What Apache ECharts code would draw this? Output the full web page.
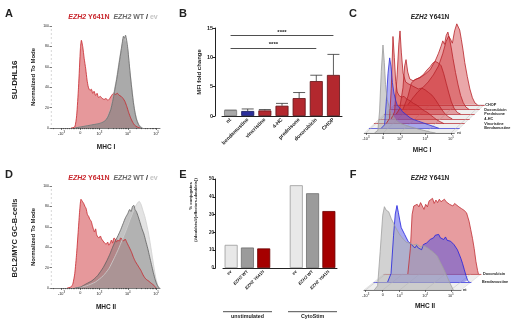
<!DOCTYPE html>
<html>
<head>
<meta charset="utf-8">
<script src="https://cdn.jsdelivr.net/npm/echarts@6/dist/echarts.min.js"></script>
<style>
  html, body { margin: 0; padding: 0; background: #fff; }
  #main { width: 520px; height: 321px; }
</style>
</head>
<body>
<div id="main"></div>
<script>
const FONT = '"Liberation Sans", Arial, Helvetica, sans-serif'

// flow axis in display units: -10^3 -> -1, 0 -> 0, 10^3 -> 1, 10^4 -> 2.5, 10^5 -> 4
const flowTicks = [-1, 0, 1, 2.5, 4]
const flowTickLabels = ['-10{s|3}', '0', '10{s|3}', '10{s|4}', '10{s|5}']

// A: SU-DHL16, MHC I, % of mode
const aY641N = [[-0.5,0],[-0.3,1],[-0.2,12],[-0.1,40],[0,78],[0.05,86],[0.12,80],[0.2,68],[0.28,58],[0.35,47],[0.42,40],[0.5,37],[0.58,38],[0.65,34],[0.72,36],[0.8,32],[0.88,34],[0.95,30],[1.05,31],[1.15,29],[1.25,28],[1.35,29],[1.45,27],[1.55,29],[1.65,32],[1.75,34],[1.85,33],[1.95,34],[2.05,32],[2.15,31],[2.25,29],[2.35,26],[2.45,21],[2.55,15],[2.65,10],[2.75,6],[2.85,3],[3.0,1],[3.15,0]]
const aWT = [[-0.3,0],[0,1],[0.3,2],[0.6,3],[0.9,4],[1.1,5],[1.3,7],[1.45,11],[1.6,18],[1.7,26],[1.8,36],[1.9,46],[1.97,54],[2.05,64],[2.15,76],[2.22,85],[2.27,90],[2.32,88],[2.38,91],[2.44,86],[2.5,78],[2.56,66],[2.62,54],[2.7,40],[2.78,27],[2.86,17],[2.95,9],[3.05,4],[3.15,1],[3.25,0]]
const aEV = [[-0.3,0],[0,1],[0.3,2],[0.6,3],[0.9,4],[1.1,5],[1.3,7],[1.45,12],[1.6,20],[1.7,28],[1.8,38],[1.9,48],[2.0,60],[2.1,72],[2.2,82],[2.28,88],[2.35,86],[2.42,84],[2.5,76],[2.58,62],[2.66,48],[2.74,35],[2.82,23],[2.9,14],[3.0,7],[3.1,3],[3.2,1],[3.3,0]]

// B: MFI fold change
const bCategories = ['nt', 'bendamustine', 'vincristine', '4-HC', 'prednisone', 'doxorubicin', 'CHOP']
const bMean = [1.0, 0.85, 0.95, 1.75, 3.05, 5.95, 7.0]
const bErrTop = [1.0, 1.2, 1.1, 2.15, 4.0, 6.95, 10.5]
const bColors = ['#a9a9a9', '#2c2f9c', '#b3282e', '#b3282e', '#b3282e', '#b3282e', '#b3282e']
const bBorders = ['#777777', '#14165a', '#5e1014', '#5e1014', '#5e1014', '#5e1014', '#5e1014']
const bSig = [['nt', 'CHOP', 13.7], ['nt', 'doxorubicin', 11.6]]

// C: EZH2 Y641N, MHC I waterfall (front to back), % of mode
const cNt = [[-0.5,0],[-0.3,3],[-0.2,25],[-0.1,70],[0,100],[0.08,80],[0.15,55],[0.25,38],[0.4,27],[0.6,19],[0.8,14],[1.0,11],[1.3,9],[1.6,7],[2.0,5],[2.4,3],[2.8,1],[3.1,0]]
const cBendamustine = [[-0.4,0],[-0.2,4],[-0.1,30],[0,62],[0.1,80],[0.18,70],[0.26,52],[0.35,40],[0.45,32],[0.55,26],[0.65,24],[0.75,22],[0.85,19],[0.95,17],[1.1,15],[1.3,12],[1.5,10],[1.8,8],[2.1,6],[2.4,4],[2.7,2],[3.0,0]]
const cVincristine = [[-0.4,0],[-0.2,6],[-0.1,40],[0,99],[0.08,75],[0.16,48],[0.25,36],[0.35,32],[0.5,30],[0.65,31],[0.8,28],[1.0,26],[1.2,23],[1.4,21],[1.6,18],[1.8,15],[2.0,13],[2.2,10],[2.4,7],[2.6,4],[2.8,2],[3.0,0]]
const c4HC = [[-0.4,0],[-0.2,8],[-0.05,50],[0.05,85],[0.12,100],[0.2,75],[0.3,52],[0.45,42],[0.6,40],[0.8,38],[1.0,36],[1.2,34],[1.4,35],[1.6,33],[1.8,30],[2.0,27],[2.2,22],[2.4,16],[2.6,10],[2.8,5],[3.0,2],[3.2,0]]
const cPrednisone = [[-0.4,0],[-0.2,6],[0,30],[0.1,55],[0.18,62],[0.28,48],[0.4,40],[0.6,38],[0.8,40],[1.0,42],[1.2,45],[1.4,50],[1.6,54],[1.75,58],[1.9,60],[2.0,62],[2.1,58],[2.25,55],[2.4,46],[2.55,35],[2.7,24],[2.85,14],[3.0,7],[3.2,2],[3.4,0]]
const cDoxorubicin = [[-0.3,0],[0,15],[0.2,30],[0.4,34],[0.7,36],[1.0,40],[1.3,45],[1.6,55],[1.8,64],[1.95,72],[2.05,78],[2.15,74],[2.25,84],[2.35,88],[2.45,80],[2.55,70],[2.65,58],[2.8,42],[2.95,28],[3.1,16],[3.25,8],[3.4,3],[3.6,0]]
const cCHOP = [[-0.3,0],[0,8],[0.3,15],[0.6,20],[0.9,26],[1.2,34],[1.5,44],[1.75,58],[1.95,72],[2.1,78],[2.2,75],[2.32,70],[2.45,84],[2.58,92],[2.65,94],[2.75,85],[2.85,74],[2.95,62],[3.05,48],[3.2,32],[3.35,18],[3.5,8],[3.65,2],[3.8,0]]

// D: BCL2/MYC GC-B-cells, MHC II, % of mode
const dY641N = [[-0.7,0],[-0.5,1],[-0.4,4],[-0.3,14],[-0.2,34],[-0.1,60],[-0.03,78],[0.03,87],[0.1,85],[0.17,83],[0.24,80],[0.3,78],[0.37,72],[0.44,70],[0.5,67],[0.56,66],[0.62,62],[0.68,58],[0.74,55],[0.8,58],[0.86,52],[0.92,50],[0.98,49],[1.05,51],[1.12,48],[1.2,46],[1.28,44],[1.36,43],[1.44,45],[1.5,42],[1.57,44],[1.64,47],[1.7,44],[1.77,49],[1.84,48],[1.9,45],[1.97,47],[2.05,46],[2.12,49],[2.2,48],[2.28,46],[2.36,48],[2.44,45],[2.52,42],[2.6,39],[2.7,35],[2.8,30],[2.9,26],[3.0,23],[3.1,20],[3.2,17],[3.3,13],[3.4,10],[3.5,8],[3.6,7],[3.7,5],[3.8,4],[3.9,2],[4.0,0]]
const dWT = [[-0.3,0],[0,1],[0.3,4],[0.6,7],[0.9,12],[1.2,20],[1.4,27],[1.55,33],[1.7,40],[1.84,46],[1.95,50],[2.1,56],[2.25,63],[2.38,69],[2.5,73],[2.6,77],[2.67,75],[2.75,80],[2.82,81],[2.88,77],[2.95,75],[3.05,70],[3.15,64],[3.25,58],[3.35,53],[3.45,46],[3.55,39],[3.65,31],[3.75,23],[3.85,15],[3.95,8],[4.05,3],[4.15,0]]
const dEV = [[-0.3,0],[0.3,2],[0.8,6],[1.2,12],[1.5,19],[1.8,30],[2.0,38],[2.2,47],[2.4,56],[2.6,66],[2.75,73],[2.9,80],[3.0,83],[3.1,85],[3.2,82],[3.3,76],[3.4,70],[3.5,62],[3.6,53],[3.7,42],[3.8,30],[3.9,18],[4.0,8],[4.1,2],[4.2,0]]

// E: % conjugates
const eCategories = ['ev', 'EZH2 WT', 'EZH2 Y641N', '', 'ev', 'EZH2 WT', 'EZH2 Y641N']
const eUnstim = [13, 11.5, 11]
const eCyto = [46.5, 42, 32]
const eColors = ['#e8e8e8', '#9b9b9b', '#a50000']
const eBorders = ['#9a9a9a', '#6e6e6e', '#6a0000']
const eGroups = ['unstimulated', 'CytoStim']

// F: EZH2 Y641N, MHC II waterfall (front to back)
const fNt = [[-0.5,0],[-0.3,5],[-0.15,45],[0,88],[0.1,98],[0.2,94],[0.35,92],[0.5,84],[0.65,78],[0.8,72],[1.0,65],[1.2,60],[1.4,56],[1.6,55],[1.8,53],[2.0,54],[2.2,51],[2.4,52],[2.6,50],[2.8,47],[3.0,44],[3.2,40],[3.4,32],[3.6,24],[3.8,15],[4.0,6],[4.15,0]]
const fBendamustine = [[-0.3,0],[-0.1,10],[0.05,55],[0.15,80],[0.25,90],[0.33,82],[0.42,72],[0.5,64],[0.6,62],[0.7,56],[0.8,52],[0.9,48],[1.0,46],[1.1,44],[1.2,42],[1.3,40],[1.4,43],[1.5,40],[1.6,42],[1.7,38],[1.8,44],[1.9,42],[2.0,46],[2.1,44],[2.2,50],[2.3,48],[2.4,52],[2.5,55],[2.6,53],[2.7,56],[2.8,52],[2.9,54],[3.0,50],[3.1,53],[3.2,49],[3.3,51],[3.4,48],[3.5,46],[3.6,44],[3.7,42],[3.8,38],[3.9,33],[4.0,28],[4.1,22],[4.2,15],[4.3,8],[4.4,2],[4.5,0]]
const fDoxorubicin = [[0.3,0],[0.45,30],[0.55,70],[0.65,80],[0.75,78],[0.85,82],[0.95,79],[1.05,84],[1.15,80],[1.25,76],[1.35,82],[1.45,79],[1.55,86],[1.65,84],[1.75,89],[1.85,83],[1.95,87],[2.05,84],[2.15,88],[2.25,85],[2.35,84],[2.45,88],[2.55,85],[2.65,87],[2.75,82],[2.85,84],[2.95,80],[3.05,83],[3.15,81],[3.3,79],[3.45,77],[3.6,75],[3.75,72],[3.9,62],[4.0,52],[4.1,42],[4.2,30],[4.3,15],[4.4,4],[4.45,0]]

const RED = '#c8262c'
const INK = '#222'

const grids = []
const xAxes = []
const yAxes = []
const series = []
const graphics = []

const supRich = { s: { fontSize: 2.8, padding: [0, 0, 3, 0], fontFamily: FONT, color: INK } }

function flowLabel(v) {
  const i = flowTicks.indexOf(v)
  return i >= 0 ? flowTickLabels[i] : ''
}

// 对数轴的小刻度
function flowMinor(min, max) {
  const out = []
  for (let k = 1; k <= 9; k++) out.push(k / 10, -k / 10)
  for (let k = 2; k <= 9; k++) {
    const l = 1.5 * Math.log10(k)
    out.push(1 + l, 2.5 + l, -1 - l)
  }
  return out.filter((v) => v > min && v < max)
}

function addGrid(g) {
  grids.push(g)
  return grids.length - 1
}

function hist(data, xi, yi, fill, stroke, z, width, smooth) {
  series.push({
    type: 'line', data, xAxisIndex: xi, yAxisIndex: yi, symbol: 'none', showSymbol: false,
    smooth: smooth || false, lineStyle: { width: 0 }, areaStyle: { color: fill, opacity: 1 }, z, silent: true,
  })
  series.push({
    type: 'line', data, xAxisIndex: xi, yAxisIndex: yi, symbol: 'none', showSymbol: false,
    smooth: smooth || false, lineStyle: { width: width || 0.8, color: stroke }, z: z + 20, silent: true,
  })
}

function text(x, y, str, opts) {
  graphics.push({
    type: 'text', x, y, rotation: (opts && opts.rotation) || 0, z: 100,
    style: Object.assign({
      text: str, fontFamily: FONT, fontSize: 7, fontWeight: 'bold', fill: INK,
      align: 'center', verticalAlign: 'middle',
    }, opts && opts.style),
  })
}

function line(x1, y1, x2, y2, color, w) {
  graphics.push({ type: 'line', shape: { x1, y1, x2, y2 }, style: { stroke: color || INK, lineWidth: w || 0.8 }, z: 1 })
}

// ---------- A / D: overlaid histograms ----------
function histPanel(top, xName, curves) {
  const gi = addGrid({ left: 52, top, width: 108, height: 102 })
  const min = -1.5
  const max = 4.2
  xAxes.push({
    gridIndex: gi, type: 'value', min, max, position: 'bottom',
    axisLine: { onZero: false, lineStyle: { color: INK, width: 0.6 } },
    axisTick: { customValues: flowTicks, length: 2, lineStyle: { color: INK, width: 0.6 } },
    axisLabel: { customValues: flowTicks, formatter: flowLabel, fontSize: 3.8, margin: 3, color: INK, fontFamily: FONT, rich: supRich },
    splitLine: { show: false },
    name: xName, nameLocation: 'middle', nameGap: 16,
    nameTextStyle: { fontSize: 6.5, fontWeight: 'bold', color: INK, fontFamily: FONT },
  })
  const xi = xAxes.length - 1
  xAxes.push({
    gridIndex: gi, type: 'value', min, max, position: 'bottom',
    axisLine: { show: false, onZero: false }, axisLabel: { show: false }, splitLine: { show: false },
    axisTick: { customValues: flowMinor(min, max), length: 1.2, lineStyle: { color: INK, width: 0.5 } },
  })
  yAxes.push({
    gridIndex: gi, type: 'value', min: 0, max: 100, interval: 20, position: 'left',
    axisLine: { show: false, onZero: false },
    axisTick: { show: true, length: 2.5, lineStyle: { color: INK, width: 0.6 } },
    minorTick: { show: true, splitNumber: 5, length: 1.2, lineStyle: { color: '#555', width: 0.4 } },
    axisLabel: { fontSize: 3.5, margin: 3, color: INK, fontFamily: FONT },
    splitLine: { show: false },
    name: 'Normalized To Mode', nameLocation: 'middle', nameGap: 16,
    nameTextStyle: { fontSize: 6, fontWeight: 'bold', color: INK, fontFamily: FONT },
  })
  const yi = yAxes.length - 1
  curves.forEach((c, k) => hist(c.data, xi, yi, c.fill, c.stroke, 2 + k, 0.8, 0.2))
}

histPanel(26, 'MHC I', [
  { data: aY641N, fill: 'rgba(205,50,55,0.5)', stroke: RED },
  { data: aEV, fill: 'rgba(175,175,175,0.45)', stroke: '#b8b8b8' },
  { data: aWT, fill: 'rgba(110,110,110,0.45)', stroke: '#6a6a6a' },
])
histPanel(186, 'MHC II', [
  { data: dY641N, fill: 'rgba(205,50,55,0.5)', stroke: RED },
  { data: dEV, fill: 'rgba(200,200,200,0.5)', stroke: '#cfcfcf' },
  { data: dWT, fill: 'rgba(110,110,110,0.42)', stroke: '#5e5e5e' },
])

// ---------- B: bars ----------
{
  const gi = addGrid({ left: 222, top: 28, width: 120, height: 88 })
  xAxes.push({
    gridIndex: gi, type: 'category', data: bCategories,
    axisLine: { lineStyle: { color: INK, width: 1 } },
    axisTick: { alignWithLabel: true, length: 2, lineStyle: { color: INK } },
    axisLabel: { rotate: 45, fontSize: 5.2, fontWeight: 'bold', margin: 3, color: INK, fontFamily: FONT, interval: 0 },
  })
  yAxes.push({
    gridIndex: gi, type: 'value', min: 0, max: 15, interval: 5, offset: 7,
    axisLine: { show: true, lineStyle: { color: INK, width: 1 } },
    axisTick: { show: true, length: 2.5, lineStyle: { color: INK } },
    axisLabel: { fontSize: 5.5, fontWeight: 'bold', margin: 2, color: INK, fontFamily: FONT },
    splitLine: { show: false },
    name: 'MFI fold change', nameLocation: 'middle', nameGap: 13,
    nameTextStyle: { fontSize: 6, fontWeight: 'bold', color: INK, fontFamily: FONT },
  })
  const xi = xAxes.length - 1
  const yi = yAxes.length - 1
  series.push({
    type: 'bar', xAxisIndex: xi, yAxisIndex: yi, barWidth: 13, z: 3,
    data: bMean.map((v, i) => ({ value: v, itemStyle: { color: bColors[i], borderColor: bBorders[i], borderWidth: 0.8 } })),
    markLine: {
      symbol: 'none', silent: true,
      lineStyle: { color: INK, width: 0.8, type: 'solid' },
      label: { formatter: '****', position: 'middle', fontSize: 6, fontWeight: 'bold', color: INK, distance: 0.5, fontFamily: FONT },
      data: bSig.map(([a, b, v]) => [{ coord: [a, v] }, { coord: [b, v] }]),
    },
  })
  series.push({
    type: 'custom', xAxisIndex: xi, yAxisIndex: yi, z: 2, silent: true,
    data: bMean.map((v, i) => [i, v, bErrTop[i]]),
    renderItem(params, api) {
      const p0 = api.coord([api.value(0), api.value(1)])
      const p1 = api.coord([api.value(0), api.value(2)])
      const w = 6
      const st = { stroke: '#333', lineWidth: 0.8 }
      return {
        type: 'group',
        children: [
          { type: 'line', shape: { x1: p0[0], y1: p0[1], x2: p1[0], y2: p1[1] }, style: st },
          { type: 'line', shape: { x1: p1[0] - w, y1: p1[1], x2: p1[0] + w, y2: p1[1] }, style: st },
        ],
      }
    },
  })
}

// ---------- E: bars ----------
{
  const gi = addGrid({ left: 223, top: 179, width: 114, height: 89 })
  xAxes.push({
    gridIndex: gi, type: 'category', data: eCategories,
    axisLine: { lineStyle: { color: INK, width: 1 } },
    axisTick: { show: false },
    axisLabel: {
      rotate: 45, fontSize: 4.3, fontWeight: 'bold', margin: 3, color: INK, fontFamily: FONT, interval: 0,
      formatter: (v) => v.replace('EZH2', '{i|EZH2}'),
      rich: { i: { fontStyle: 'italic', fontWeight: 'bold', fontSize: 4.3, fontFamily: FONT, color: INK } },
    },
  })
  yAxes.push({
    gridIndex: gi, type: 'value', min: 0, max: 50, interval: 10, offset: 7.5,
    axisLine: { show: true, lineStyle: { color: INK, width: 1 } },
    axisTick: { show: true, length: 2.5, lineStyle: { color: INK } },
    axisLabel: { fontSize: 4.5, fontWeight: 'bold', margin: 1.5, color: INK, fontFamily: FONT },
    splitLine: { show: false },
  })
  const xi = xAxes.length - 1
  const yi = yAxes.length - 1
  const vals = [...eUnstim, null, ...eCyto]
  series.push({
    type: 'bar', xAxisIndex: xi, yAxisIndex: yi, barWidth: 13,
    data: vals.map((v, i) => (v == null ? '-' : {
      value: v,
      itemStyle: { color: eColors[i % 4], borderColor: eBorders[i % 4], borderWidth: 0.8 },
    })),
  })
  text(191, 196, '% conjugates', { rotation: Math.PI / 2, style: { fontSize: 4.3 } })
  text(195.5, 210, '(#doublets/#[effectors+doublets])', { rotation: Math.PI / 2, style: { fontSize: 4 } })
  line(223, 311.7, 272, 311.7)
  line(288, 311.7, 337, 311.7)
  text(247.5, 317, eGroups[0], { style: { fontSize: 5.3 } })
  text(312.5, 317, eGroups[1], { style: { fontSize: 5.3 } })
}

// ---------- C / F: offset histograms ----------
function waterfall(geo, layers) {
  const n = layers.length
  const bx = geo.dx * (n - 1)
  const by = geo.dy * (n - 1)
  graphics.push({
    type: 'polygon', z: -1,
    shape: { points: [[geo.left, geo.base], [geo.left + geo.width, geo.base], [geo.left + geo.width + bx, geo.base - by], [geo.left + bx, geo.base - by]] },
    style: { fill: '#efefef', stroke: '#d0d0d0', lineWidth: 0.5 },
  })
  flowTicks.forEach((u) => {
    const x = geo.left + (u - geo.min) / (geo.max - geo.min) * geo.width
    line(x, geo.base, x + bx, geo.base - by, '#bdbdbd', 0.5)
  })
  layers.forEach((ly, i) => {
    const gi = addGrid({ left: geo.left + geo.dx * i, top: geo.base - geo.dy * i - geo.height, width: geo.width, height: geo.height })
    const front = i === 0
    xAxes.push({
      gridIndex: gi, type: 'value', min: geo.min, max: geo.max, position: 'bottom',
      axisLine: { onZero: false, lineStyle: { color: front ? INK : ly.stroke, width: front ? 0.6 : 0.7 } },
      axisTick: { show: front, customValues: flowTicks, length: 2, lineStyle: { color: INK, width: 0.6 } },
      axisLabel: { show: front, customValues: flowTicks, formatter: flowLabel, fontSize: 3.8, margin: 3, color: INK, fontFamily: FONT, rich: supRich },
      splitLine: { show: false },
      name: ly.name, nameLocation: 'end', nameGap: ly.gap,
      nameTextStyle: { fontSize: 3.8, fontWeight: 'bold', color: INK, fontFamily: FONT },
    })
    yAxes.push({ gridIndex: gi, type: 'value', min: 0, max: 100, show: false, axisLine: { onZero: false } })
    hist(ly.data, xAxes.length - 1, yAxes.length - 1, ly.fill, ly.stroke, 2 + (n - i) * 2, 0.8, false)
  })
}

const cRed = { fill: 'rgba(205,45,50,0.42)', stroke: '#b8232a' }
waterfall({ left: 364.3, width: 90, base: 133, height: 88, dx: 5, dy: 4.7, min: -1.1, max: 4.2 }, [
  { name: 'nt', data: cNt, fill: 'rgba(170,170,170,0.55)', stroke: '#9a9a9a', gap: 3 },
  { name: 'Bendamustine', data: cBendamustine, fill: 'rgba(80,80,230,0.45)', stroke: '#2f2fd8', gap: 25 },
  { name: 'Vincristine', data: cVincristine, ...cRed, gap: 20 },
  { name: '4-HC', data: c4HC, ...cRed, gap: 15 },
  { name: 'Prednisone', data: cPrednisone, ...cRed, gap: 10 },
  { name: 'Doxorubicin', data: cDoxorubicin, ...cRed, gap: 5 },
  { name: 'CHOP', data: cCHOP, ...cRed, gap: 1 },
])
waterfall({ left: 364, width: 97, base: 290, height: 85, dx: 10, dy: 8, min: -1.1, max: 4.6 }, [
  { name: 'nt', data: fNt, fill: 'rgba(180,180,180,0.6)', stroke: '#a0a0a0', gap: 2 },
  { name: 'Bendamustine', data: fBendamustine, fill: 'rgba(80,80,225,0.5)', stroke: '#2020e0', gap: 11 },
  { name: 'Doxorubicin', data: fDoxorubicin, fill: 'rgba(215,90,95,0.6)', stroke: '#c03036', gap: 2 },
])

// ---------- titles & letters ----------
// graphic 里的 rich 要用 fill
function tok(fill, italic, size) {
  return { fill, fontStyle: italic ? 'italic' : 'normal', fontWeight: 'bold', fontSize: size || 7, fontFamily: FONT }
}
const titleRich = {
  ri: tok(RED, true), r: tok(RED),
  gi: tok('#6a6a6a', true), g: tok('#6a6a6a'),
  k: tok(INK), l: tok('#c4c4c4'),
  bi: tok(INK, true, 6.5), b: tok(INK, false, 6.5),
}
const legendTitle = '{ri|EZH2} {r|Y641N}  {gi|EZH2} {g|WT} {k|/} {l|ev}'
text(113, 17, legendTitle, { style: { rich: titleRich } })
text(113, 178, legendTitle, { style: { rich: titleRich } })
text(430, 17, '{bi|EZH2} {b|Y641N}', { style: { rich: titleRich } })
text(430, 178, '{bi|EZH2} {b|Y641N}', { style: { rich: titleRich } })
text(422, 150, 'MHC I', { style: { fontSize: 6.5 } })
text(425, 306, 'MHC II', { style: { fontSize: 6.5 } })

text(15, 80, 'SU-DHL16', { rotation: Math.PI / 2, style: { fontSize: 8 } })
text(15, 238, 'BCL2/MYC GC-B-cells', { rotation: Math.PI / 2, style: { fontSize: 7.5 } })

const letters = [['A', 9, 14], ['B', 183, 14], ['C', 353, 14], ['D', 9, 175], ['E', 183, 175], ['F', 353, 175]]
letters.forEach(([t, x, y]) => text(x, y, t, { style: { fontSize: 11 } }))

const chart = echarts.init(document.getElementById('main'))
chart.setOption({
  animation: false,
  backgroundColor: '#fff',
  grid: grids,
  xAxis: xAxes,
  yAxis: yAxes,
  series,
  graphic: graphics,
})
</script>
</body>
</html>
